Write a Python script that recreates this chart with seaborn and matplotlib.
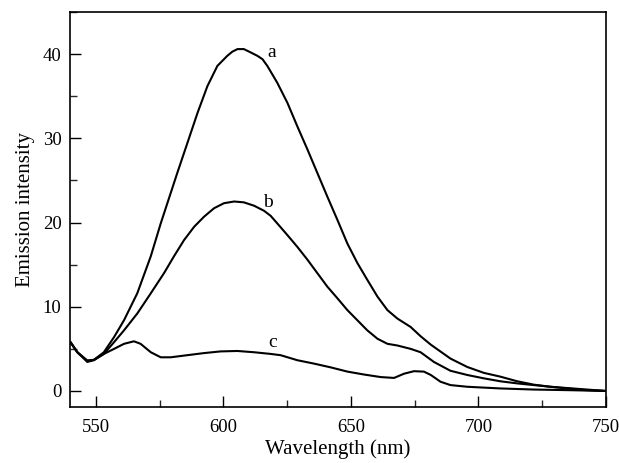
import numpy as np
import pandas as pd
import matplotlib
matplotlib.use('Agg')
import matplotlib.pyplot as plt
import seaborn as sns
from matplotlib.ticker import MultipleLocator

# curve a
wl_a = [540, 542.7, 546.6, 549.2, 553.1, 557.1, 561.0, 566.2, 571.5, 575.4, 578.0, 581.9,
        585.8, 589.8, 593.7, 597.6, 601.5, 603.5, 605.5, 608.0, 610.7, 613.3, 615.3, 617.2,
        621.1, 625.1, 629.0, 632.9, 636.8, 640.7, 644.7, 648.6, 652.5, 656.4, 660.4, 664.3,
        668.2, 673.4, 677.3, 681.3, 689.0, 695.6, 702.1, 708.6, 715.2, 721.7, 728.2, 734.8,
        741.3, 750]
int_a = [5.8, 4.6, 3.6, 3.7, 4.6, 6.4, 8.4, 11.6, 16.0, 19.9, 22.3, 25.9,
         29.4, 33.0, 36.2, 38.6, 39.8, 40.3, 40.6, 40.6, 40.2, 39.8, 39.4, 38.6,
         36.6, 34.2, 31.4, 28.7, 25.9, 23.1, 20.3, 17.5, 15.2, 13.2, 11.2, 9.6,
         8.6, 7.6, 6.5, 5.5, 3.85, 2.85, 2.15, 1.7, 1.15, 0.75, 0.5, 0.3,
         0.12, 0.0]

# curve b
wl_b = [540, 542.7, 546.6, 549.2, 553.1, 557.1, 561.0, 566.2, 571.5, 576.7, 580.6, 584.5,
        588.5, 592.4, 596.3, 600.2, 604.2, 608.0, 612.0, 615.9, 618.5, 621.1, 625.1, 629.0,
        632.9, 636.8, 640.7, 644.7, 648.6, 652.5, 656.4, 660.4, 664.3, 668.2, 673.4, 677.3,
        682.5, 689.0, 695.6, 702.1, 708.6, 715.2, 721.7, 728.2, 741.3, 750]
int_b = [5.8, 4.6, 3.6, 3.7, 4.4, 5.8, 7.2, 9.2, 11.6, 14.0, 16.0, 17.9,
         19.5, 20.7, 21.7, 22.3, 22.5, 22.4, 22.0, 21.4, 20.8, 19.9, 18.5, 17.1,
         15.6, 14.0, 12.4, 11.0, 9.6, 8.4, 7.2, 6.2, 5.6, 5.4, 5.0, 4.6,
         3.45, 2.4, 1.9, 1.5, 1.15, 0.9, 0.7, 0.5, 0.2, 0.0]

# curve c
wl_c = [540, 542.7, 546.6, 549.2, 553.1, 557.1, 561.0, 564.9, 567.5, 571.5, 575.4, 579.3,
        585.8, 592.4, 598.9, 605.5, 612.0, 618.5, 622.4, 629.0, 635.5, 642.1, 648.6, 655.2,
        661.7, 666.9, 670.8, 674.7, 678.6, 681.3, 685.1, 689.0, 695.6, 708.6, 721.7, 734.8, 750]
int_c = [5.8, 4.6, 3.45, 3.65, 4.4, 5.0, 5.6, 5.9, 5.6, 4.6, 4.0, 4.0,
         4.25, 4.5, 4.7, 4.75, 4.6, 4.4, 4.25, 3.65, 3.25, 2.8, 2.3, 1.95,
         1.65, 1.55, 2.05, 2.35, 2.3, 1.9, 1.1, 0.7, 0.5, 0.3, 0.17, 0.1, 0.0]

labels = ['a', 'b', 'c']
label_x = [617.4, 615.4, 617.4]
label_y = [39.7, 21.9, 5.2]

sns.set_theme(style='ticks')
plt.rcParams['font.family'] = ['Liberation Serif', 'DejaVu Serif']
plt.rcParams['xtick.direction'] = 'in'
plt.rcParams['ytick.direction'] = 'in'

fig, ax = plt.subplots(figsize=(6.19, 4.63), dpi=100)
fig.subplots_adjust(left=0.113, right=0.979, top=0.974, bottom=0.121)

for wl, val in [(wl_a, int_a), (wl_b, int_b), (wl_c, int_c)]:
    df = pd.DataFrame({'wl': wl, 'val': val})
    sns.lineplot(data=df, x='wl', y='val', color='black', linewidth=1.5, ax=ax)

for lab, lx, ly in zip(labels, label_x, label_y):
    ax.text(lx, ly, lab, fontsize=14, ha='left', va='baseline', color='black')

ax.set_xlim(539.8, 750)
ax.set_ylim(-1.9, 45)
ax.xaxis.set_major_locator(MultipleLocator(50))
ax.xaxis.set_minor_locator(MultipleLocator(25))
ax.yaxis.set_major_locator(MultipleLocator(10))
ax.yaxis.set_minor_locator(MultipleLocator(5))
ax.tick_params(which='major', length=8, width=1, labelsize=13.5, colors='black')
ax.tick_params(axis='x', which='major', pad=9)
ax.tick_params(axis='y', which='major', pad=6)
ax.tick_params(which='minor', length=5, width=1)
for sp in ax.spines.values():
    sp.set_visible(True)
    sp.set_color('black')
    sp.set_linewidth(1.2)

ax.set_xlabel('Wavelength (nm)', fontsize=15, color='black', labelpad=2)
ax.set_ylabel('Emission intensity', fontsize=15, color='black', labelpad=6)

fig.savefig('out.png', dpi=100)
